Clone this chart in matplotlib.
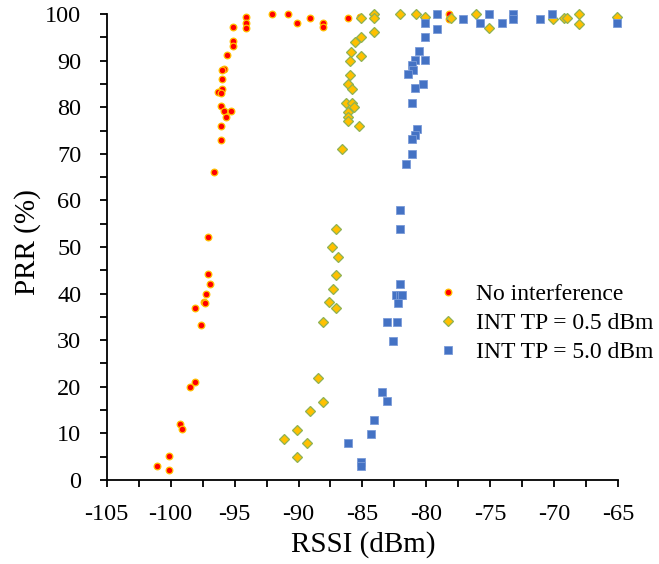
"""
PRR vs RSSI scatter for three interference settings.
"""

import matplotlib
matplotlib.use("Agg")
import matplotlib.pyplot as plt
from matplotlib.ticker import MultipleLocator

plt.rcParams["font.family"] = ["Liberation Serif", "DejaVu Serif"]
plt.rcParams["axes.unicode_minus"] = False

# No interference
rssi_none = [-92.1, -94.1, -94.1, -94.1, -95.1, -95.1, -95.1, -95.6, -95.8, -96.0,
             -96.0, -96.0, -96.3, -96.1, -96.1, -95.8, -95.3, -95.7, -96.1, -96.1,
             -96.6, -97.1, -97.1, -96.9, -97.2, -97.4, -97.3, -98.1, -97.65, -98.1,
             -98.5, -99.3, -99.1, -100.1, -101.1, -100.1,
             -90.8, -90.1, -89.1, -88.1, -88.1, -86.1, -85.2, -79.2, -78.2, -78.2]
prr_none = [100, 99.3, 98, 97.1, 97.3, 94.2, 93.1, 91.2, 88.2, 88,
            86, 84, 83.2, 83.1, 80.2, 79.1, 79.1, 78, 76, 73,
            66.2, 52.1, 44.2, 42, 40, 38.1, 38, 37, 33.2, 21.1,
            20, 12.1, 10.9, 5.1, 2.9, 2.1,
            100, 98, 99.2, 98, 97.3, 99.2, 99.4, 100, 100, 99]

# INT TP = 0.5 dBm
rssi_05 = [-85.1, -84.1, -84.1, -82.1, -80.8, -80.1, -84.1, -85.1, -85.6, -85.9,
           -85.1, -86.0, -86.0, -86.1, -85.8, -86.3, -85.8, -85.7, -86.1, -86.1,
           -86.1, -85.3, -86.6, -87.1, -87.4, -86.9, -87.1, -87.3, -87.6, -87.05,
           -88.1, -88.5, -88.1, -89.1, -90.1, -91.1, -89.3, -90.1,
           -78.1, -76.1, -75.1, -70.06, -69.2, -69.0, -68.1, -68.1, -65.1]
prr_05 = [99.1, 100, 99.1, 100, 100, 99.3, 96.1, 95, 94.1, 91.9,
          91.1, 90, 87, 85, 83.9, 81, 81, 80.1, 79, 78,
          77.1, 76, 71, 53.9, 49.9, 47.9, 44.1, 41, 38.1, 36.9,
          33.9, 21.8, 16.8, 14.9, 10.8, 8.9, 7.9, 5,
          99.1, 100, 97.1, 98.9, 99.1, 99.1, 100, 97.9, 99.3]

# INT TP = 5.0 dBm
rssi_50 = [-79.2, -79.2, -80.1, -80.1, -80.6, -80.1, -80.9, -81.1, -81.05, -81.4,
           -80.3, -80.9, -81.15, -80.7, -80.9, -81.1, -81.1, -81.6, -82.1, -82.1,
           -82.1, -82.4, -82.1, -81.9, -82.2, -83.1, -82.3, -82.6, -83.5, -83.1,
           -84.1, -84.3, -86.1, -85.1, -85.1,
           -77.1, -75.8, -75.1, -74.1, -73.2, -73.2, -71.1, -70.2, -65.1]
prr_50 = [100, 96.9, 98.1, 95, 92.1, 90.1, 90.1, 89.1, 88, 87.1,
          84.9, 84.1, 81, 75.3, 74, 73.1, 70, 67.8, 57.9, 53.8,
          42, 39.8, 39.8, 39.8, 37.9, 34, 34, 29.9, 18.9, 17,
          12.9, 9.9, 7.9, 3.9, 2.9,
          98.9, 98.1, 100, 98.1, 100, 98.9, 98.9, 100, 98.1]

fig = plt.figure(figsize=(6.59, 5.64), dpi=100)
ax = fig.add_axes([0.162, 0.149, 0.776, 0.826])

ax.plot(rssi_none, prr_none, "o", ms=4.8, mfc="#FF0000", mec="#FFC000", mew=0.9,
        ls="none", label="No interference", zorder=3, clip_on=False)
ax.plot(rssi_05, prr_05, "D", ms=4.7, mfc="#FFC000", mec="#8DB255", mew=0.9,
        ls="none", label="INT TP = 0.5 dBm", zorder=4, clip_on=False)
ax.plot(rssi_50, prr_50, "s", ms=6.3, mfc="#4472C4", mec="#7A9BD8", mew=0.6,
        ls="none", label="INT TP = 5.0 dBm", zorder=5, clip_on=False)

ax.set_xlim(-105, -65)
ax.set_ylim(0, 100)
ax.xaxis.set_major_locator(MultipleLocator(5))
ax.xaxis.set_minor_locator(MultipleLocator(2.5))
ax.yaxis.set_major_locator(MultipleLocator(10))
ax.yaxis.set_minor_locator(MultipleLocator(5))

for side in ("top", "right"):
    ax.spines[side].set_visible(False)
for side in ("left", "bottom"):
    ax.spines[side].set_linewidth(1.3)

ax.tick_params(which="both", direction="out", length=5.3, width=1.3,
               labelsize=17.5, color="black")
ax.tick_params(axis="x", pad=12)
ax.tick_params(axis="y", pad=13)

ax.set_xlabel("RSSI (dBm)", fontsize=21)
ax.set_ylabel("PRR (%)", fontsize=21)
ax.xaxis.set_label_coords(0.501, -0.139)
ax.xaxis.label.set_va("center")
ax.yaxis.set_label_coords(-0.154, 0.51)
ax.yaxis.label.set_va("center")

ax.legend(loc="upper left", bbox_to_anchor=(0.622, 0.442), frameon=False,
          fontsize=17, handletextpad=0.55, labelspacing=0.32,
          handlelength=1.2, borderaxespad=0)

plt.savefig("out.png", dpi=100)
